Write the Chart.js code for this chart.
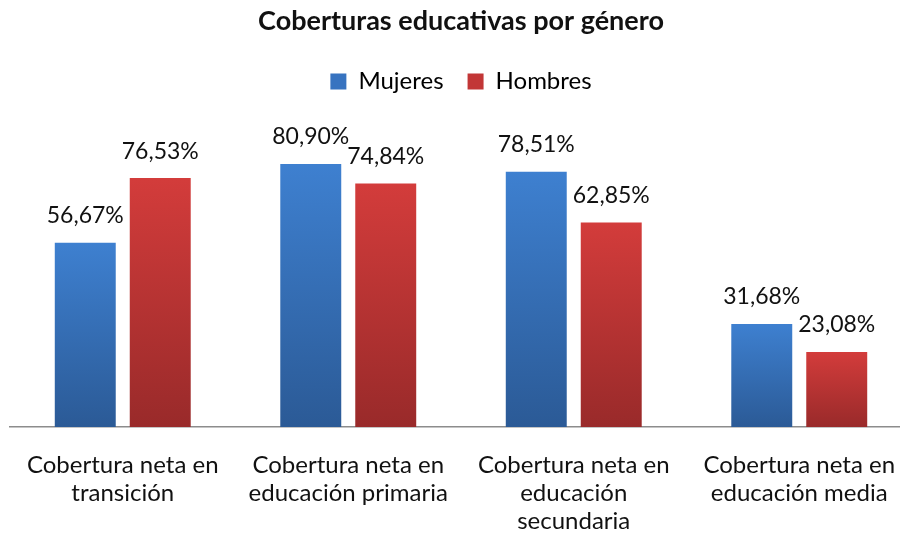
<!DOCTYPE html>
<html>
<head>
<meta charset="utf-8">
<script src="https://cdn.jsdelivr.net/npm/chart.js@4.4.1/dist/chart.umd.min.js"></script>
<style>
  html, body { margin: 0; padding: 0; background: #fff; overflow: hidden; }
  #wrap { position: absolute; left: 0; top: 0; width: 922px; height: 537px; }
</style>
</head>
<body>
<div id="wrap"><canvas id="coberturaChart"></canvas></div>
<script>
// Categories and series values (percent)
const categorias = [
  ["Cobertura neta en", "transición"],
  ["Cobertura neta en", "educación primaria"],
  ["Cobertura neta en", "educación", "secundaria"],
  ["Cobertura neta en", "educación media"]
];
const mujeres = [56.67, 80.90, 78.51, 31.68];
const hombres = [76.53, 74.84, 62.85, 23.08];

const fontFamily = "Lato, 'Open Sans', sans-serif";

// Vertical gradient per bar, lighter at the top
function barGradient(top, bottom) {
  return function(context) {
    const chart = context.chart;
    const area = chart.chartArea;
    if (!area || context.type !== "data") return top;
    const y = chart.scales.y;
    const yTop = y.getPixelForValue(context.raw);
    const yBot = y.getPixelForValue(0);
    const g = chart.ctx.createLinearGradient(0, yTop, 0, yBot);
    g.addColorStop(0, top);
    g.addColorStop(1, bottom);
    return g;
  };
}

// Write value labels above each bar
const valueLabels = {
  id: "valueLabels",
  afterDatasetsDraw(chart) {
    const ctx = chart.ctx;
    ctx.save();
    ctx.font = "23px " + fontFamily;
    ctx.fillStyle = "#111";
    ctx.textAlign = "center";
    ctx.textBaseline = "middle";
    chart.data.datasets.forEach((ds, i) => {
      chart.getDatasetMeta(i).data.forEach((bar, j) => {
        const txt = ds.data[j].toFixed(2).replace(".", ",") + "%";
        ctx.fillText(txt, bar.x, bar.y - 27);
      });
    });
    ctx.restore();
  }
};

new Chart(document.getElementById("coberturaChart"), {
  type: "bar",
  data: {
    labels: categorias,
    datasets: [
      {
        label: "Mujeres",
        data: mujeres,
        backgroundColor: barGradient("#3e80d0", "#2b5a96")
      },
      {
        label: "Hombres",
        data: hombres,
        backgroundColor: barGradient("#d33c3b", "#992a2a")
      }
    ]
  },
  options: {
    responsive: true,
    maintainAspectRatio: false,
    animation: false,
    datasets: {
      bar: { categoryPercentage: 0.665, barPercentage: 0.813 }
    },
    layout: { padding: { left: 10, right: 10, top: 0, bottom: 0 } },
    plugins: {
      title: {
        display: true,
        text: "Coberturas educativas por género",
        color: "#111",
        font: { family: fontFamily, size: 27, weight: "bold" },
        padding: { top: 5, bottom: 8 }
      },
      legend: {
        position: "top",
        labels: {
          color: "#111",
          font: { family: fontFamily, size: 24 },
          boxWidth: 16,
          boxHeight: 16,
          padding: 24,
          generateLabels() {
            return [
              { text: "Mujeres", fillStyle: "#3773c0", strokeStyle: "#3773c0", lineWidth: 0, datasetIndex: 0 },
              { text: "Hombres", fillStyle: "#c23636", strokeStyle: "#c23636", lineWidth: 0, datasetIndex: 1 }
            ];
          }
        }
      },
      tooltip: { enabled: false }
    },
    scales: {
      x: {
        grid: { display: false, drawTicks: false },
        border: { display: true, color: "#8c8c8c", width: 1.5 },
        ticks: {
          color: "#111",
          font: { family: fontFamily, size: 24, lineHeight: "28px" },
          padding: 24,
          maxRotation: 0,
          autoSkip: false
        },
        afterFit(scale) { scale.height = 110; }
      },
      y: {
        display: false,
        min: 0,
        max: 99.5
      }
    }
  },
  plugins: [valueLabels]
});
</script>
</body>
</html>
